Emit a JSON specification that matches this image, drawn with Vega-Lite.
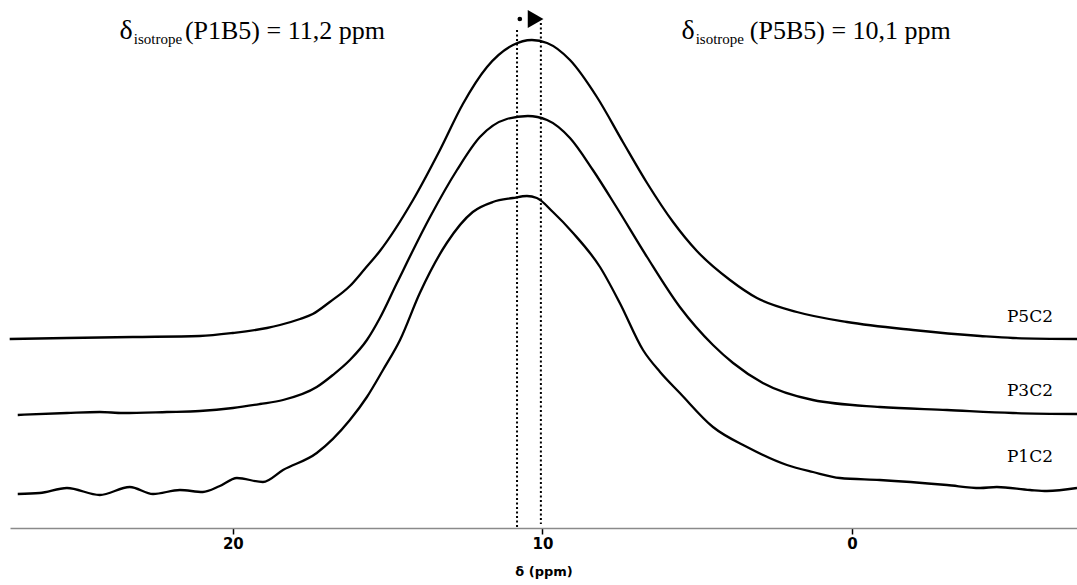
{
  "$schema": "https://vega.github.io/schema/vega-lite/v6.json",
  "autosize": {"type": "none"},
  "width": 1067,
  "height": 528,
  "padding": {"left": 10, "top": 0, "right": 0, "bottom": 57},
  "background": "white",
  "config": {"view": {"stroke": null}},
  "datasets": {
    "spectra": [
      {"s": "P5C2", "ppm": 27.21, "i": 189}, {"s": "P5C2", "ppm": 25.36, "i": 190}, {"s": "P5C2", "ppm": 23.23, "i": 191},
      {"s": "P5C2", "ppm": 21.07, "i": 192}, {"s": "P5C2", "ppm": 20.0, "i": 195}, {"s": "P5C2", "ppm": 18.9, "i": 200},
      {"s": "P5C2", "ppm": 18.48, "i": 203}, {"s": "P5C2", "ppm": 17.83, "i": 209}, {"s": "P5C2", "ppm": 17.42, "i": 214},
      {"s": "P5C2", "ppm": 16.87, "i": 226}, {"s": "P5C2", "ppm": 16.22, "i": 242}, {"s": "P5C2", "ppm": 15.74, "i": 259},
      {"s": "P5C2", "ppm": 15.25, "i": 277}, {"s": "P5C2", "ppm": 14.18, "i": 328}, {"s": "P5C2", "ppm": 13.31, "i": 378},
      {"s": "P5C2", "ppm": 12.57, "i": 424}, {"s": "P5C2", "ppm": 11.79, "i": 461}, {"s": "P5C2", "ppm": 10.95, "i": 483},
      {"s": "P5C2", "ppm": 10.34, "i": 488}, {"s": "P5C2", "ppm": 9.85, "i": 485}, {"s": "P5C2", "ppm": 9.11, "i": 468},
      {"s": "P5C2", "ppm": 8.24, "i": 431}, {"s": "P5C2", "ppm": 7.4, "i": 386}, {"s": "P5C2", "ppm": 6.62, "i": 345},
      {"s": "P5C2", "ppm": 5.78, "i": 306}, {"s": "P5C2", "ppm": 5.01, "i": 277}, {"s": "P5C2", "ppm": 3.94, "i": 248},
      {"s": "P5C2", "ppm": 3.07, "i": 230}, {"s": "P5C2", "ppm": 1.78, "i": 216}, {"s": "P5C2", "ppm": 0.16, "i": 206},
      {"s": "P5C2", "ppm": -1.97, "i": 198}, {"s": "P5C2", "ppm": -4.14, "i": 192}, {"s": "P5C2", "ppm": -5.2, "i": 190},
      {"s": "P5C2", "ppm": -7.27, "i": 189},

      {"s": "P3C2", "ppm": 26.95, "i": 113}, {"s": "P3C2", "ppm": 25.36, "i": 115}, {"s": "P3C2", "ppm": 24.3, "i": 116},
      {"s": "P3C2", "ppm": 23.55, "i": 115}, {"s": "P3C2", "ppm": 22.13, "i": 116}, {"s": "P3C2", "ppm": 21.07, "i": 117},
      {"s": "P3C2", "ppm": 20.0, "i": 120}, {"s": "P3C2", "ppm": 19.13, "i": 124}, {"s": "P3C2", "ppm": 18.38, "i": 128},
      {"s": "P3C2", "ppm": 17.29, "i": 141}, {"s": "P3C2", "ppm": 16.77, "i": 153}, {"s": "P3C2", "ppm": 16.22, "i": 168},
      {"s": "P3C2", "ppm": 15.67, "i": 188}, {"s": "P3C2", "ppm": 15.25, "i": 210}, {"s": "P3C2", "ppm": 14.7, "i": 245},
      {"s": "P3C2", "ppm": 13.63, "i": 311}, {"s": "P3C2", "ppm": 12.76, "i": 358}, {"s": "P3C2", "ppm": 12.02, "i": 391},
      {"s": "P3C2", "ppm": 11.15, "i": 409}, {"s": "P3C2", "ppm": 10.47, "i": 412}, {"s": "P3C2", "ppm": 9.85, "i": 408},
      {"s": "P3C2", "ppm": 9.11, "i": 390}, {"s": "P3C2", "ppm": 8.37, "i": 358}, {"s": "P3C2", "ppm": 7.59, "i": 320},
      {"s": "P3C2", "ppm": 6.62, "i": 271}, {"s": "P3C2", "ppm": 5.56, "i": 221}, {"s": "P3C2", "ppm": 4.49, "i": 183},
      {"s": "P3C2", "ppm": 3.84, "i": 165}, {"s": "P3C2", "ppm": 2.88, "i": 145}, {"s": "P3C2", "ppm": 1.26, "i": 128},
      {"s": "P3C2", "ppm": -0.9, "i": 121}, {"s": "P3C2", "ppm": -3.07, "i": 118}, {"s": "P3C2", "ppm": -5.2, "i": 115},
      {"s": "P3C2", "ppm": -7.27, "i": 114},

      {"s": "P1C2", "ppm": 26.95, "i": 34}, {"s": "P1C2", "ppm": 26.24, "i": 35}, {"s": "P1C2", "ppm": 25.36, "i": 40},
      {"s": "P1C2", "ppm": 24.3, "i": 33}, {"s": "P1C2", "ppm": 23.33, "i": 41}, {"s": "P1C2", "ppm": 22.58, "i": 34},
      {"s": "P1C2", "ppm": 21.71, "i": 38}, {"s": "P1C2", "ppm": 20.97, "i": 36}, {"s": "P1C2", "ppm": 20.42, "i": 42},
      {"s": "P1C2", "ppm": 19.87, "i": 50}, {"s": "P1C2", "ppm": 19.03, "i": 46}, {"s": "P1C2", "ppm": 18.38, "i": 58},
      {"s": "P1C2", "ppm": 17.29, "i": 75}, {"s": "P1C2", "ppm": 16.22, "i": 108}, {"s": "P1C2", "ppm": 15.67, "i": 131},
      {"s": "P1C2", "ppm": 15.15, "i": 158}, {"s": "P1C2", "ppm": 14.6, "i": 188}, {"s": "P1C2", "ppm": 13.96, "i": 235},
      {"s": "P1C2", "ppm": 13.09, "i": 285}, {"s": "P1C2", "ppm": 12.25, "i": 316}, {"s": "P1C2", "ppm": 11.6, "i": 326},
      {"s": "P1C2", "ppm": 10.95, "i": 330}, {"s": "P1C2", "ppm": 10.5, "i": 332}, {"s": "P1C2", "ppm": 10.18, "i": 330},
      {"s": "P1C2", "ppm": 9.66, "i": 316}, {"s": "P1C2", "ppm": 9.01, "i": 295}, {"s": "P1C2", "ppm": 8.14, "i": 261},
      {"s": "P1C2", "ppm": 7.5, "i": 225}, {"s": "P1C2", "ppm": 6.75, "i": 178}, {"s": "P1C2", "ppm": 6.2, "i": 156},
      {"s": "P1C2", "ppm": 5.56, "i": 135}, {"s": "P1C2", "ppm": 4.49, "i": 101}, {"s": "P1C2", "ppm": 3.39, "i": 81},
      {"s": "P1C2", "ppm": 2.1, "i": 63}, {"s": "P1C2", "ppm": 1.26, "i": 56}, {"s": "P1C2", "ppm": 0.39, "i": 50},
      {"s": "P1C2", "ppm": -0.9, "i": 48}, {"s": "P1C2", "ppm": -3.07, "i": 43}, {"s": "P1C2", "ppm": -4.14, "i": 40},
      {"s": "P1C2", "ppm": -4.68, "i": 41}, {"s": "P1C2", "ppm": -5.75, "i": 38}, {"s": "P1C2", "ppm": -6.3, "i": 37},
      {"s": "P1C2", "ppm": -7.27, "i": 40}
    ],
    "markers": [
      {"ppm": 10.82, "top": 498, "bottom": 0},
      {"ppm": 10.05, "top": 505, "bottom": 4}
    ],
    "labels": [
      {"ppm": -5.75, "i": 211, "label": "P5C2"},
      {"ppm": -5.75, "i": 137, "label": "P3C2"},
      {"ppm": -5.75, "i": 71, "label": "P1C2"}
    ],
    "delta": [
      {"ppm": 23.2, "i": 489, "t": "δ"},
      {"ppm": 5.05, "i": 489, "t": "δ"}
    ],
    "sub": [
      {"ppm": 23.2, "i": 484, "t": "isotrope"},
      {"ppm": 5.05, "i": 484, "t": "isotrope"}
    ],
    "main": [
      {"ppm": 21.55, "i": 489, "t": "(P1B5) = 11,2 ppm"},
      {"ppm": 3.3, "i": 489, "t": "(P5B5) = 10,1 ppm"}
    ],
    "dot": [{"ppm": 10.73, "i": 509}],
    "arrow": [{"ppm": 10.22, "i": 509}]
  },
  "encoding": {
    "x": {
      "field": "ppm", "type": "quantitative",
      "scale": {"domain": [-7.27, 27.2], "reverse": true, "nice": false, "zero": false},
      "axis": {
        "values": [20, 10, 0], "grid": false, "title": "δ (ppm)",
        "domainColor": "#8a8a8a", "domainWidth": 1.5,
        "tickColor": "black", "tickWidth": 1.5, "tickSize": 6,
        "labelFont": "DejaVu Sans", "labelFontWeight": "bold", "labelFontSize": 15, "labelColor": "black", "labelPadding": 2,
        "titleFont": "DejaVu Sans", "titleFontWeight": "bold", "titleFontSize": 13, "titleColor": "black", "titlePadding": 14
      }
    },
    "y": {"field": "i", "type": "quantitative", "scale": {"domain": [0, 528], "nice": false, "zero": false}, "axis": null}
  },
  "layer": [
    {
      "data": {"name": "spectra"},
      "mark": {"type": "line", "color": "black", "strokeWidth": 2.3, "interpolate": "monotone"},
      "encoding": {"detail": {"field": "s"}}
    },
    {
      "data": {"name": "markers"},
      "mark": {"type": "rule", "color": "black", "strokeWidth": 2, "strokeDash": [2, 2.5]},
      "encoding": {"y": {"field": "top", "type": "quantitative"}, "y2": {"field": "bottom"}}
    },
    {
      "data": {"name": "dot"},
      "mark": {"type": "point", "shape": "circle", "filled": true, "color": "black", "size": 22, "opacity": 1}
    },
    {
      "data": {"name": "arrow"},
      "mark": {"type": "point", "shape": "triangle-right", "filled": true, "color": "black", "size": 330, "opacity": 1}
    },
    {
      "data": {"name": "labels"},
      "mark": {"type": "text", "font": "DejaVu Serif", "fontSize": 17, "color": "black", "align": "center", "baseline": "middle"},
      "encoding": {"text": {"field": "label"}}
    },
    {
      "data": {"name": "delta"},
      "mark": {"type": "text", "font": "Liberation Serif", "fontSize": 28, "color": "black", "align": "right", "baseline": "alphabetic", "dx": -1},
      "encoding": {"text": {"field": "t"}}
    },
    {
      "data": {"name": "sub"},
      "mark": {"type": "text", "font": "Liberation Serif", "fontSize": 15, "color": "black", "align": "left", "baseline": "alphabetic"},
      "encoding": {"text": {"field": "t"}}
    },
    {
      "data": {"name": "main"},
      "mark": {"type": "text", "font": "Liberation Serif", "fontSize": 26, "color": "black", "align": "left", "baseline": "alphabetic"},
      "encoding": {"text": {"field": "t"}}
    }
  ]
}
